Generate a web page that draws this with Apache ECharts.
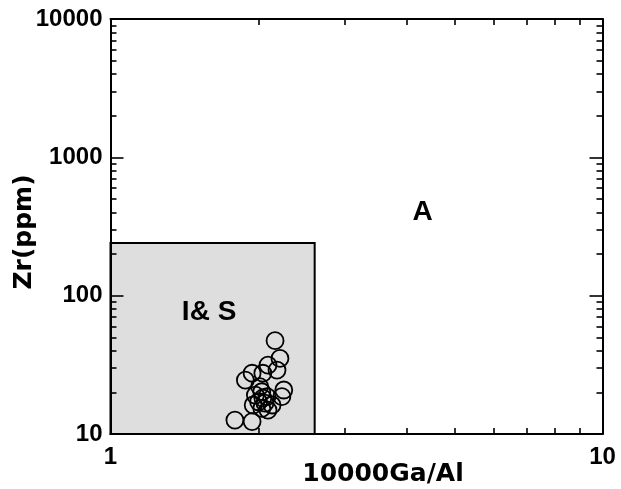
<!DOCTYPE html>
<html>
<head>
<meta charset="utf-8">
<script src="https://cdn.jsdelivr.net/npm/echarts@6/dist/echarts.min.js"></script>
<style>
  html, body { margin: 0; padding: 0; background: #fff; }
  #chart { width: 621px; height: 489px; }
</style>
</head>
<body>
<div id="chart"></div>
<script>
// Zr vs 10000Ga/Al discrimination plot (log-log)
const gaAl = [2.16, 2.21, 2.09, 2.18, 1.94, 1.88, 2.04, 2.01, 2.25, 2.23, 1.97,
              2.03, 2.08, 2.00, 2.06, 1.95, 2.13, 2.03, 2.09, 1.79, 1.94, 2.04];
const zr   = [47.3, 35.2, 31.5, 29.0, 27.5, 24.5, 27.5, 22.0, 20.8, 18.6, 19.1,
              20.2, 18.6, 17.1, 16.7, 16.2, 16.2, 15.3, 14.9, 12.6, 12.3, 18.2];

// I&S field: 10000Ga/Al < 2.6 and Zr < 240
const fieldIS = { xMin: 1, xMax: 2.6, yMin: 10, yMax: 240 };

// Field labels and their anchor points
const fieldNames = ['A', 'I& S'];
const fieldLabelX = [4.32, 1.59];
const fieldLabelY = [396, 75];

const xLabelValues = [1, 10];
const yLabelValues = [10, 100, 1000, 10000];
const xMinorTicks = [2, 3, 4, 5, 6, 7, 8, 9];
const yMajorTicks = [100, 1000];
const yMinorTicks = [20, 30, 40, 50, 60, 70, 80, 90,
                     200, 300, 400, 500, 600, 700, 800, 900,
                     2000, 3000, 4000, 5000, 6000, 7000, 8000, 9000];

const ARIAL = 'Arial, "Liberation Sans", Helvetica, sans-serif';
const labelFont = { color: '#000', fontFamily: ARIAL, fontWeight: 'bold', fontSize: 24 };
const blackLine = { color: '#000', width: 2 };
const tickLine = { color: '#000', width: 1.6 };

function xAx(position, opts) {
  return Object.assign({
    type: 'log', logBase: 10, min: 1, max: 10, position: position, z: 10,
    axisLine: { show: true, onZero: false, lineStyle: blackLine },
    axisTick: { show: true, inside: true, length: 6, lineStyle: tickLine, customValues: xMinorTicks },
    axisLabel: { show: false },
    splitLine: { show: false }, minorTick: { show: false }
  }, opts || {});
}
function yAx(position, opts) {
  return Object.assign({
    type: 'log', logBase: 10, min: 10, max: 10000, position: position, z: 10,
    axisLine: { show: true, onZero: false, lineStyle: blackLine },
    axisTick: { show: true, inside: true, length: 6, lineStyle: tickLine, customValues: yMinorTicks },
    axisLabel: { show: false },
    splitLine: { show: false }, minorTick: { show: false }
  }, opts || {});
}

const chart = echarts.init(document.getElementById('chart'), null, { renderer: 'canvas' });
chart.setOption({
  animation: false,
  backgroundColor: '#fff',
  grid: { left: 110.5, right: 18.5, top: 19, bottom: 55, containLabel: false },
  xAxis: [
    xAx('bottom', {
      axisLabel: Object.assign({ show: true, margin: 11, customValues: xLabelValues,
                                 formatter: v => String(v) }, labelFont)
    }),
    xAx('top')
  ],
  yAxis: [
    yAx('left', {
      axisLabel: Object.assign({ show: true, margin: 8, customValues: yLabelValues,
                                 formatter: v => String(v) }, labelFont)
    }),
    yAx('left', {
      axisLine: { show: false },
      axisTick: { show: true, inside: true, length: 13, lineStyle: tickLine, customValues: yMajorTicks }
    }),
    yAx('right'),
    yAx('right', {
      axisLine: { show: false },
      axisTick: { show: true, inside: true, length: 13, lineStyle: tickLine, customValues: yMajorTicks }
    })
  ],
  graphic: [
    {
      type: 'text', x: 383, y: 474,
      style: { text: '10000Ga/Al', x: 0, y: 0, align: 'center', verticalAlign: 'middle',
               fill: '#000', font: 'bold 25px "DejaVu Sans"' }
    },
    {
      type: 'text', x: 24, y: 232, rotation: Math.PI / 2,
      style: { text: 'Zr(ppm)', x: 0, y: 0, align: 'center', verticalAlign: 'middle',
               fill: '#000', font: 'bold 25px "DejaVu Sans"' }
    }
  ],
  series: [
    {
      type: 'scatter',
      xAxisIndex: 0, yAxisIndex: 0,
      symbol: 'circle', symbolSize: 17,
      itemStyle: { color: 'rgba(0,0,0,0)', borderColor: '#000', borderWidth: 1.8, opacity: 1 },
      data: gaAl.map((x, i) => [x, zr[i]]),
      z: 5,
      markArea: {
        silent: true,
        itemStyle: { color: '#dedede', borderColor: '#000', borderWidth: 2 },
        data: [[{ coord: [fieldIS.xMin, fieldIS.yMin] }, { coord: [fieldIS.xMax, fieldIS.yMax] }]]
      }
    },
    {
      type: 'scatter',
      xAxisIndex: 0, yAxisIndex: 0,
      symbolSize: 1,
      itemStyle: { color: 'rgba(0,0,0,0)' },
      silent: true,
      z: 6,
      label: {
        show: true, position: [0, 0], align: 'center', verticalAlign: 'middle',
        formatter: p => fieldNames[p.dataIndex],
        color: '#000', opacity: 1, textBorderWidth: 0,
        fontFamily: ARIAL, fontWeight: 'bold', fontSize: 28
      },
      data: fieldLabelX.map((x, i) => [x, fieldLabelY[i]])
    }
  ]
});
</script>
</body>
</html>
